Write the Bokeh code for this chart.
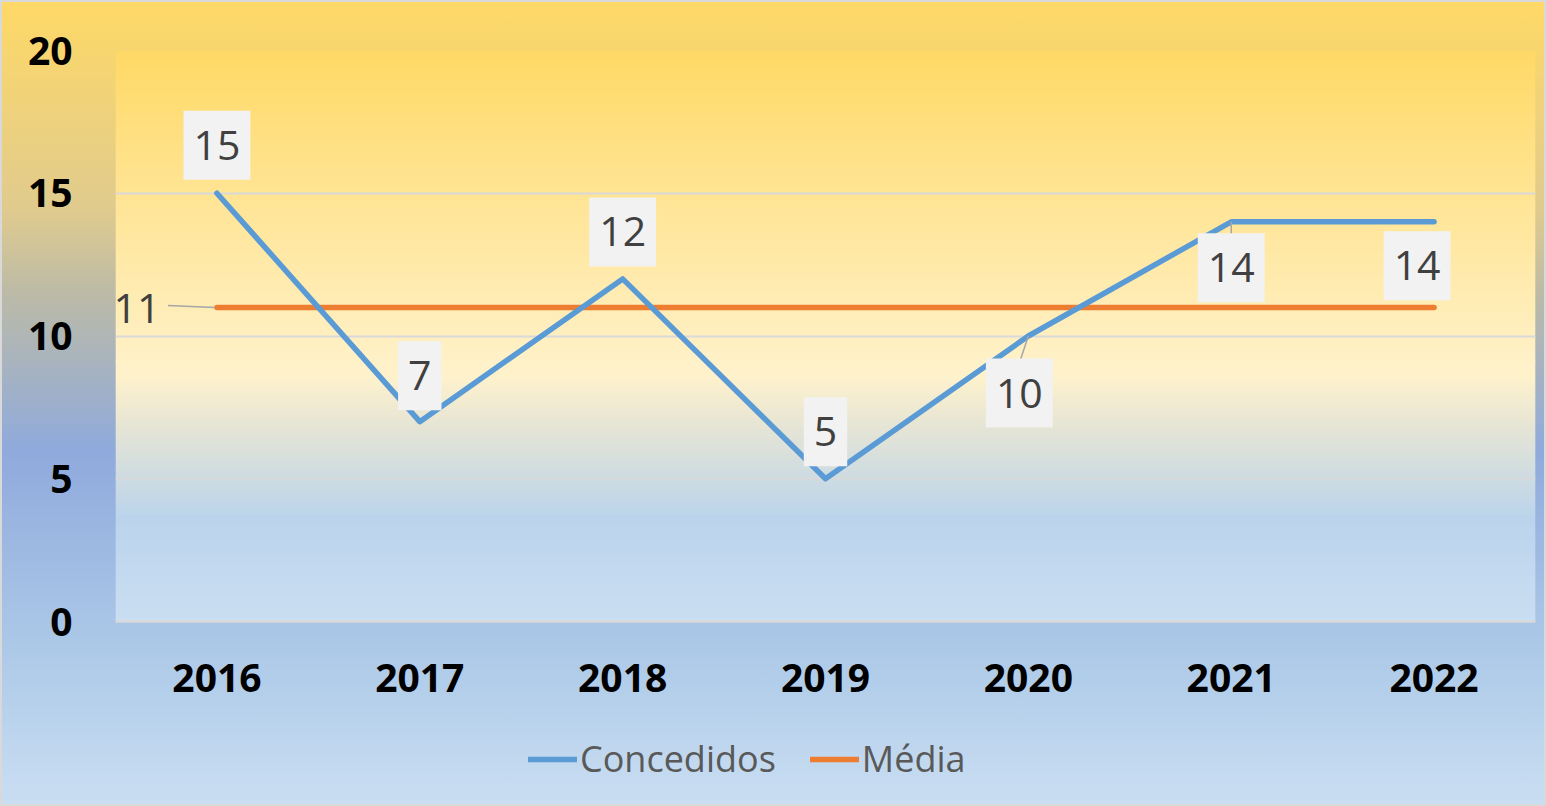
import numpy as np
from bokeh.plotting import figure
from bokeh.models import ColumnDataSource, Range1d, FactorRange, Legend, LegendItem, FixedTicker, Label
from bokeh.core.properties import value
from bokeh.embed import file_html
from bokeh.resources import INLINE

# ---------------- data ----------------
years = ["2016", "2017", "2018", "2019", "2020", "2021", "2022"]
concedidos = [15, 7, 12, 5, 10, 14, 14]
media = [11, 11, 11, 11, 11, 11, 11]
y_ticks = [0, 5, 10, 15, 20]

# label placement (screen px, relative to the data point)
label_dx = [0, 0, 0, 0, -9, 0, -17]
label_dy = [-48, -46, -47, -47, 57, 46, 44]

FONT = "Open Sans"
BLUE = "#5B9BD5"
ORANGE = "#ED7D31"

W, H = 1546, 806
TOP, BOTTOM_AREA = 50, 185          # px above the plot area / below value 0
PLOT_H = H - TOP - BOTTOM_AREA      # height of the 0..20 plot area
Y_MAX = 20
Y_MIN = -BOTTOM_AREA / PLOT_H * Y_MAX   # frame continues below 0 to hold axis labels + legend

p = figure(width=W, height=H,
           x_range=FactorRange(factors=years, range_padding=0),
           y_range=Range1d(Y_MIN, Y_MAX),
           output_backend="svg", toolbar_location=None,
           min_border_left=115, min_border_right=11,
           min_border_top=TOP, min_border_bottom=0)

p.background_fill_color = None
p.border_fill_color = None
p.outline_line_color = None
p.styles = {
    "background-image": "linear-gradient(180deg, #FFD966 0%, #E0CB8E 26%, #BDBBA6 36%, #8FAADC 56%, #B0CCE9 83%, #CADEF2 100%)",
    "box-shadow": "inset 0 0 0 2px #D9D9D9",
}

# plot-area gradient (decorative background, drawn as thin horizontal strips over 0..20)
stops_pos = [0.0, 0.57, 0.65, 0.82, 1.0]
stops_col = ["#FFD966", "#FFF2CC", "#E8E6D4", "#BBD4EC", "#CADEF2"]
def hex2rgb(h):
    return np.array([int(h[i:i + 2], 16) for i in (1, 3, 5)], dtype=float)
rgbs = np.array([hex2rgb(c) for c in stops_col])
n = 160
step = Y_MAX / n
fr = (np.arange(n) + 0.5) / n
cols = []
for f in fr:
    rgb = [np.interp(f, stops_pos, rgbs[:, k]) for k in range(3)]
    cols.append("#%02x%02x%02x" % tuple(int(round(v)) for v in rgb))
y1s = [Y_MAX - i * step for i in range(n)]
y0s = [max(0.0, Y_MAX - (i + 1) * step - step * 0.3) for i in range(n)]
strips = p.hstrip(y0=y0s, y1=y1s, fill_color=cols, line_color=None)
strips.level = "image"

# axes
p.xgrid.visible = False
p.ygrid.ticker = FixedTicker(ticks=y_ticks)
p.ygrid.grid_line_color = "#D9D9D9"
p.ygrid.grid_line_width = 2

p.yaxis.ticker = FixedTicker(ticks=y_ticks)
p.yaxis.axis_line_color = None
p.yaxis.major_tick_line_color = None
p.yaxis.minor_tick_line_color = None
p.yaxis.major_label_standoff = 37
p.xaxis.fixed_location = 0
p.xaxis.axis_line_color = "#D9D9D9"
p.xaxis.axis_line_width = 2
p.xaxis.major_tick_line_color = None
p.xaxis.minor_tick_line_color = None
p.xaxis.major_label_standoff = 36
for ax in (p.xaxis, p.yaxis):
    ax.major_label_text_font = FONT
    ax.major_label_text_font_style = "bold"
    ax.major_label_text_font_size = "39px"
    ax.major_label_text_color = "#000000"

# lines
src = ColumnDataSource(dict(x=years, c=concedidos, m=media,
                            lbl=[str(v) for v in concedidos],
                            dx=label_dx, dy=label_dy))
r_m = p.line("x", "m", source=src, line_color=ORANGE, line_width=5.5, line_cap="round", line_join="round")
r_c = p.line("x", "c", source=src, line_color=BLUE, line_width=5.5, line_cap="round", line_join="round")

# leader lines
unit_x = 1.0 / 202.86
unit_y = Y_MAX / PLOT_H
lead_x0 = [("2016", -2 * unit_x), ("2020", 0.0), ("2021", 0.0)]
lead_x1 = [("2016", -49 * unit_x), ("2020", -8 * unit_x), ("2021", 0.0)]
lead_y0 = [media[0], concedidos[4], concedidos[5]]
lead_y1 = [media[0] + 2 * unit_y, concedidos[4] - 24 * unit_y, concedidos[5] - 13 * unit_y]
p.segment(x0=lead_x0, y0=lead_y0, x1=lead_x1, y1=lead_y1, line_color="#A6A6A6", line_width=1.5)

# data labels
p.text("x", "c", text="lbl", source=src, x_offset="dx", y_offset="dy",
       text_font=value(FONT), text_font_size="41px", text_color="#404040",
       text_align="center", text_baseline="middle",
       background_fill_color="#F2F2F2", padding=(10, 20))
# label of the average line
x_first = years.index(years[0]) + 0.5   # synthetic coordinate of the first category
p.add_layout(Label(x=x_first, y=media[0], text=str(media[0]), x_offset=-80, y_offset=-1,
                   text_font=FONT, text_font_size="41px", text_color="#404040",
                   text_align="center", text_baseline="middle"))

legend = Legend(items=[LegendItem(label="Concedidos", renderers=[r_c]),
                       LegendItem(label="Média", renderers=[r_m])],
                orientation="horizontal", location=(413, 23),
                background_fill_alpha=0, border_line_color=None,
                padding=0, margin=0, spacing=34,
                glyph_width=49, glyph_height=40, label_height=40,
                label_standoff=3,
                label_text_font=FONT, label_text_font_size="36px",
                label_text_color="#595959")
p.add_layout(legend, "center")

open("out.html", "w").write(file_html(p, INLINE))
